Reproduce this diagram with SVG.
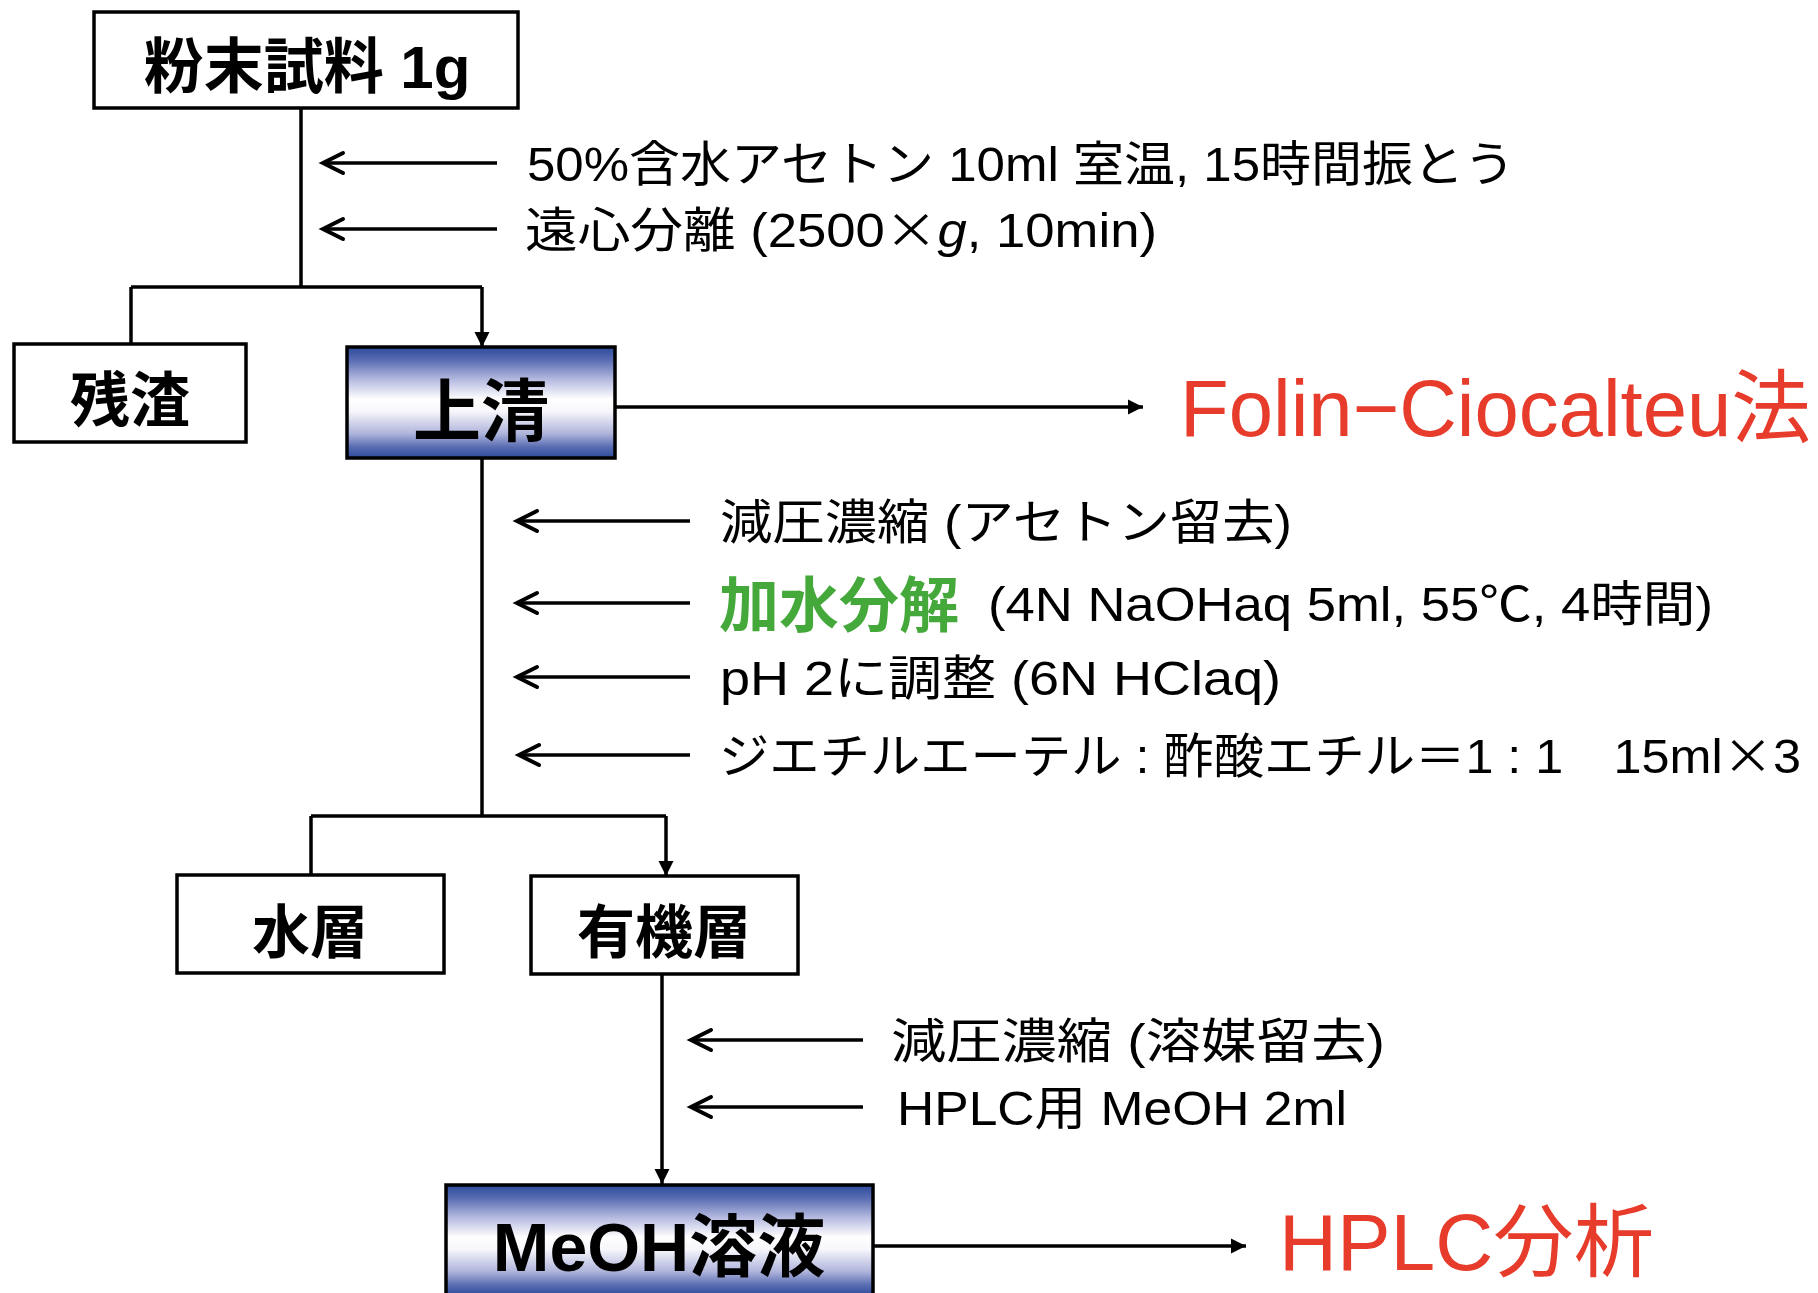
<svg xmlns="http://www.w3.org/2000/svg" width="1818" height="1293" viewBox="0 0 1818 1293">
<style>
.box{fill:#fff;stroke:#000;stroke-width:3.5}
.gbox{fill:url(#blueGrad);stroke:#000;stroke-width:3.5}
.ln{fill:none;stroke:#000;stroke-width:3.5}
.bt{font-family:'Liberation Sans','Noto Sans CJK JP',sans-serif;font-weight:bold;text-anchor:middle;fill:#000}
.dt{font-family:'Liberation Sans','Noto Sans CJK JP',sans-serif;font-size:48px;fill:#000}
.cjk{font-family:'Noto Sans CJK JP',sans-serif}
.red{font-family:'Liberation Sans','Noto Sans CJK JP',sans-serif;font-size:80px;fill:#E73C2B}
.grn{font-family:'Liberation Sans','Noto Sans CJK JP',sans-serif;font-size:60px;font-weight:bold;fill:#44A83A}
</style>
<defs>
<linearGradient id="blueGrad" x1="0" y1="0" x2="0" y2="1">
<stop offset="0" stop-color="#2B4A9B"/>
<stop offset="0.12" stop-color="#5A6DB2"/>
<stop offset="0.3" stop-color="#B8BDE1"/>
<stop offset="0.47" stop-color="#FFFFFF"/>
<stop offset="0.58" stop-color="#F6F6FB"/>
<stop offset="0.78" stop-color="#AFB4DB"/>
<stop offset="0.9" stop-color="#5A6DB2"/>
<stop offset="1" stop-color="#2B4A9B"/>
</linearGradient>
<marker id="tri" markerUnits="userSpaceOnUse" markerWidth="16" markerHeight="16" refX="15" refY="7.5" orient="auto" overflow="visible">
<path d="M0,0 L15,7.5 L0,15 z" fill="#000"/>
</marker>
<marker id="chev" markerUnits="userSpaceOnUse" markerWidth="24" markerHeight="24" refX="20" refY="10" orient="auto" overflow="visible">
<path d="M0,0 L20,10 L0,20" fill="none" stroke="#000" stroke-width="4" stroke-linecap="round" stroke-linejoin="miter"/>
</marker>
</defs>

<g id="connectors">
<path class="ln" d="M301,108 V287"/>
<path class="ln" d="M131,287 H482"/>
<path class="ln" d="M131,287 V344"/>
<path class="ln" d="M482,287 V347" marker-end="url(#tri)"/>
<path class="ln" d="M615,407 H1143" marker-end="url(#tri)"/>
<path class="ln" d="M482,458 V816"/>
<path class="ln" d="M311,816 H666"/>
<path class="ln" d="M311,816 V875"/>
<path class="ln" d="M666,816 V876" marker-end="url(#tri)"/>
<path class="ln" d="M662,974 V1184" marker-end="url(#tri)"/>
<path class="ln" d="M873,1246 H1246" marker-end="url(#tri)"/>
<path class="ln" d="M497,163 H323" marker-end="url(#chev)"/>
<path class="ln" d="M497,229 H323" marker-end="url(#chev)"/>
<path class="ln" d="M690,521 H517" marker-end="url(#chev)"/>
<path class="ln" d="M690,603 H517" marker-end="url(#chev)"/>
<path class="ln" d="M690,677 H517" marker-end="url(#chev)"/>
<path class="ln" d="M690,755 H519" marker-end="url(#chev)"/>
<path class="ln" d="M863,1040 H691" marker-end="url(#chev)"/>
<path class="ln" d="M863,1107 H691" marker-end="url(#chev)"/>
</g>

<g id="node-sample">
<rect class="box" x="94" y="12" width="424" height="96"/>
<text class="bt" x="307" y="88" font-size="60">粉末試料 1g</text>
</g>
<g id="node-residue">
<rect class="box" x="14" y="344" width="232" height="98"/>
<text class="bt" x="130" y="422" font-size="60">残渣</text>
</g>
<g id="node-supernatant">
<rect class="gbox" x="347" y="347" width="268" height="111"/>
<text class="bt" x="481" y="436" font-size="68">上清</text>
</g>
<g id="node-folin">
<text class="red" x="1180" y="436" textLength="631" lengthAdjust="spacingAndGlyphs">Folin−Ciocalteu法</text>
</g>
<g id="node-aqueous">
<rect class="box" x="177" y="875" width="267" height="98"/>
<text class="bt" x="310" y="953" font-size="58">水層</text>
</g>
<g id="node-organic">
<rect class="box" x="531" y="876" width="267" height="98"/>
<text class="bt" x="664" y="953" font-size="58">有機層</text>
</g>
<g id="node-meoh">
<rect class="gbox" x="446" y="1185" width="427" height="111"/>
<text class="bt" x="659" y="1271" font-size="68">MeOH溶液</text>
</g>
<g id="node-hplc">
<text class="red" x="1279" y="1270" textLength="375" lengthAdjust="spacingAndGlyphs">HPLC分析</text>
</g>

<g id="labels">
<text class="dt" x="527" y="181" textLength="988" lengthAdjust="spacingAndGlyphs">50%含水アセトン 10ml 室温, 15時間振とう</text>
<text class="dt" x="525" y="247" textLength="632" lengthAdjust="spacingAndGlyphs">遠心分離 (2500<tspan class="cjk">×</tspan><tspan font-style="italic">g</tspan>, 10min)</text>
<text class="dt" x="720" y="539" textLength="572" lengthAdjust="spacingAndGlyphs">減圧濃縮 (アセトン留去)</text>
<text class="grn" x="719" y="627">加水分解</text>
<text class="dt" x="988" y="621" textLength="725" lengthAdjust="spacingAndGlyphs">(4N NaOHaq 5ml, 55℃, 4時間)</text>
<text class="dt" x="720" y="695" textLength="561" lengthAdjust="spacingAndGlyphs">pH 2に調整 (6N HClaq)</text>
<text class="dt" x="719" y="773" textLength="1082" lengthAdjust="spacingAndGlyphs">ジエチルエーテル : 酢酸エチル＝1 : 1　15ml<tspan class="cjk">×</tspan>3</text>
<text class="dt" x="891" y="1058" textLength="494" lengthAdjust="spacingAndGlyphs">減圧濃縮 (溶媒留去)</text>
<text class="dt" x="897" y="1125" textLength="450" lengthAdjust="spacingAndGlyphs">HPLC用 MeOH 2ml</text>
</g>
</svg>
